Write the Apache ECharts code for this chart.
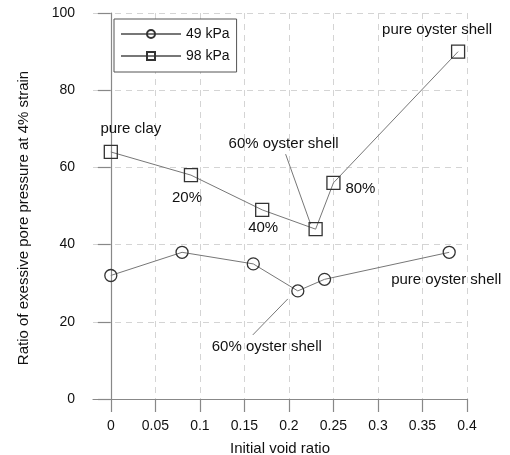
<!DOCTYPE html>
<html>
<head>
<meta charset="utf-8">
<script src="https://cdn.jsdelivr.net/npm/echarts@6/dist/echarts.min.js"></script>
<style>html,body{margin:0;padding:0;background:#fff}#c{width:510px;height:455px}</style>
</head>
<body>
<div id="c"></div>
<script>
// ---- data ----
var xTicks = [0, 0.05, 0.1, 0.15, 0.2, 0.25, 0.3, 0.35, 0.4];
var yTicks = [0, 20, 40, 60, 80, 100];

var kpa49X = [0, 0.08, 0.16, 0.21, 0.24, 0.38];
var kpa49Y = [32, 38, 35, 28, 31, 38];
var kpa49Labels = ['', '', '', '60% oyster shell', '', 'pure oyster shell'];

var kpa98X = [0, 0.09, 0.17, 0.23, 0.25, 0.39];
var kpa98Y = [64, 58, 49, 44, 56, 90];
var kpa98Labels = ['pure clay', '20%', '40%', '60% oyster shell', '80%', 'pure oyster shell'];

// ---- styling ----
var FONT = '"Liberation Sans", Arial, sans-serif';
var TXT = '#111';
var AX = '#888';

// label offsets (px) from each point
var off98 = [[20, -23], [-4, 23], [1, 18], [-32, -85], [27, 6], [-21, -22]];
var off49 = [null, null, null, [-31, 56], null, [-3, 28]];
// leader lines: pixel offsets (from the annotated point) of both ends
var leader98 = { index: 3, ends: [[-30, -75], [-5, -5]] };
var leader49 = { index: 3, ends: [[-45, 44], [-10, 8]] };

function build(xs, ys, labels) {
  return xs.map(function (x, i) {
    var item = { value: [x, ys[i]] };
    if (labels[i]) {
      item.label = {
        show: true, formatter: labels[i], position: 'inside',
        color: TXT, fontSize: 15, fontFamily: FONT
      };
    }
    return item;
  });
}

function makeLayout(offs) {
  return function (p) {
    var o = offs[p.dataIndex];
    return o ? { dx: o[0], dy: o[1] } : {};
  };
}

var leaders = [leader98, leader49];
var leaderData = [
  [kpa98X[leader98.index], kpa98Y[leader98.index], 0],
  [kpa49X[leader49.index], kpa49Y[leader49.index], 1]
];

var chart = echarts.init(document.getElementById('c'), null, { renderer: 'canvas' });
chart.setOption({
  animation: false,
  backgroundColor: '#fff',
  grid: { left: 93, right: 43, top: 13, bottom: 56, containLabel: false, outerBoundsMode: 'none' },
  legend: {
    orient: 'vertical', left: 114, top: 19,
    padding: [8, 7, 9, 6], itemGap: 8, itemWidth: 60, itemHeight: 10,
    borderColor: '#555', borderWidth: 1, backgroundColor: '#fff',
    textStyle: { color: TXT, fontSize: 14, fontFamily: FONT },
    data: ['49 kPa', '98 kPa']
  },
  xAxis: {
    type: 'value', min: -0.02, max: 0.4,
    name: 'Initial void ratio', nameLocation: 'middle', nameGap: 42,
    nameTextStyle: { color: TXT, fontSize: 15, fontFamily: FONT },
    axisLine: { show: true, lineStyle: { color: AX, width: 1.2 } },
    axisTick: { show: true, inside: false, length: 13, customValues: xTicks, lineStyle: { color: AX, width: 1.2 } },
    axisLabel: { customValues: xTicks, margin: 20, color: TXT, fontSize: 14, fontFamily: FONT },
    splitLine: { show: true, customValues: xTicks, lineStyle: { color: '#d4d4d4', type: [6, 5], width: 1 } }
  },
  yAxis: {
    type: 'value', min: 0, max: 100, interval: 20,
    name: 'Ratio of exessive pore pressure at 4% strain', nameLocation: 'middle', nameGap: 62,
    nameTextStyle: { color: TXT, fontSize: 15, fontFamily: FONT, padding: [0, 24, 0, 0] },
    axisLine: { show: true, lineStyle: { color: AX, width: 1.2 } },
    axisTick: { show: true, inside: false, length: 13, lineStyle: { color: AX, width: 1.2 } },
    axisLabel: { margin: 18, color: TXT, fontSize: 14, fontFamily: FONT },
    splitLine: { show: true, lineStyle: { color: '#d4d4d4', type: [6, 5], width: 1 } }
  },
  series: [
    {
      name: 'leaders', type: 'custom', clip: false, silent: true, z: 1,
      renderItem: function (params, api) {
        var p = api.coord([api.value(0), api.value(1)]);
        var e = leaders[api.value(2)].ends;
        return {
          type: 'line',
          shape: { x1: p[0] + e[0][0], y1: p[1] + e[0][1], x2: p[0] + e[1][0], y2: p[1] + e[1][1] },
          style: { stroke: '#777', lineWidth: 1 }
        };
      },
      data: leaderData
    },
    {
      name: '49 kPa', type: 'line', symbol: 'circle', symbolSize: 12, z: 3,
      lineStyle: { color: '#777', width: 1 },
      itemStyle: { color: 'rgba(255,255,255,0)', borderColor: '#333', borderWidth: 1.3 },
      labelLayout: makeLayout(off49),
      data: build(kpa49X, kpa49Y, kpa49Labels)
    },
    {
      name: '98 kPa', type: 'line', symbol: 'rect', symbolSize: 13, z: 3,
      lineStyle: { color: '#777', width: 1 },
      itemStyle: { color: 'rgba(255,255,255,0)', borderColor: '#333', borderWidth: 1.3 },
      labelLayout: makeLayout(off98),
      data: build(kpa98X, kpa98Y, kpa98Labels)
    }
  ]
});
</script>
</body>
</html>
